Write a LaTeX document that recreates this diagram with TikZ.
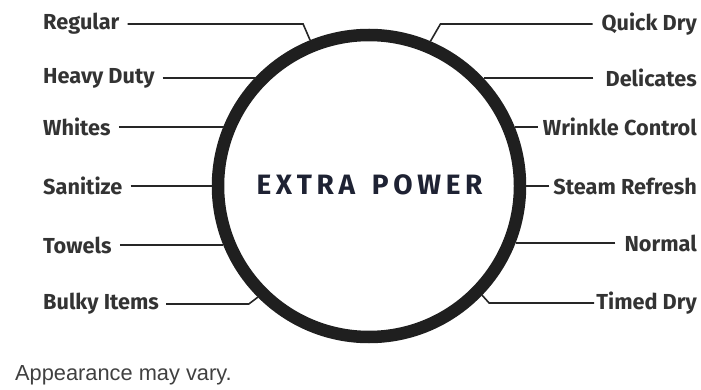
\documentclass[tikz,border=0pt]{standalone}
\usepackage{fontspec}
\setmainfont{Fira Sans}
\newfontfamily\notefont{Liberation Sans}
\usetikzlibrary{calc}
\definecolor{labgray}{HTML}{333333}
\definecolor{titlecol}{HTML}{1E2233}
\begin{document}
\begin{tikzpicture}[x=1pt,y=-1pt,
  lab/.style={font=\fontsize{21.7}{24}\selectfont\bfseries, text=labgray, inner sep=0pt},
  leader/.style={line width=1.6pt, draw=black!85},
  ringstyle/.style={circle, draw=black!88, line width=12.5pt, minimum size=302pt, inner sep=0pt, outer sep=6.25pt}]
\useasboundingbox (0,0) rectangle (701,390);
\node[ringstyle] (ring) at (369,186) {};
\node[font=\fontsize{28}{30}\selectfont\bfseries, text=titlecol] (title) at (369.5,185) {E\,X\,T\,R\,A\hspace{0.6em}P\,O\,W\,E\,R};
% left labels
\node[lab, anchor=west] (reg) at (43,24) {Regular};
\node[lab, anchor=west] (hd) at (43,78) {Heavy Duty};
\node[lab, anchor=west] (wh) at (43,127) {Whites};
\node[lab, anchor=west] (san) at (43,186) {Sanitize};
\node[lab, anchor=west] (tow) at (43,245) {Towels};
\node[lab, anchor=west] (bulk) at (43,304) {Bulky Items};
% right labels
\node[lab, anchor=east] (qd) at (697,24) {Quick Dry};
\node[lab, anchor=east] (del) at (697,78) {Delicates};
\node[lab, anchor=east] (wc) at (697,127) {Wrinkle Control};
\node[lab, anchor=east] (sr) at (697,186) {Steam Refresh};
\node[lab, anchor=east] (nor) at (697,243) {Normal};
\node[lab, anchor=east] (td) at (697,303) {Timed Dry};
% connectors left
\draw[leader] ($(reg.east)+(8,0)$) -- ($(ring.112.4 |- reg.east)+(-7,0)$) -- (ring.112.4);
\draw[leader] ($(hd.east)+(8,0)$) -- (ring.136.5 |- hd.east);
\draw[leader] ($(wh.east)+(8,0)$) -- (ring.157.9 |- wh.east);
\draw[leader] ($(san.east)+(8,0)$) -- (ring.180 |- san.east);
\draw[leader] ($(tow.east)+(8,0)$) -- (ring.202.1 |- tow.east);
\draw[leader] ($(bulk.east)+(7,0)$) -- ($(ring.225.5 |- bulk.east)+(-9,0)$) -- (ring.225.5);
% connectors right
\draw[leader] ($(qd.west)+(-9,0)$) -- ($(ring.67.4 |- qd.west)+(10,0)$) -- (ring.67.4);
\draw[leader] ($(del.west)+(-12,0)$) -- (ring.43.5 |- del.west);
\draw[leader] ($(wc.west)+(-5,0)$) -- (ring.22.1 |- wc.west);
\draw[leader] ($(sr.west)+(-4,0)$) -- (ring.0 |- sr.west);
\draw[leader] ($(nor.west)+(-9,0)$) -- (ring.-21.3 |- nor.west);
\draw[leader] ($(td.west)+(-2,0)$) -- ($(ring.-44.5 |- td.west)+(7,0)$) -- (ring.-44.5);
\node[font=\notefont\fontsize{21.8}{24}\selectfont, text=black!75, anchor=west, inner sep=0pt] (note) at (15,375) {Appearance may vary.};
\end{tikzpicture}
\end{document}
